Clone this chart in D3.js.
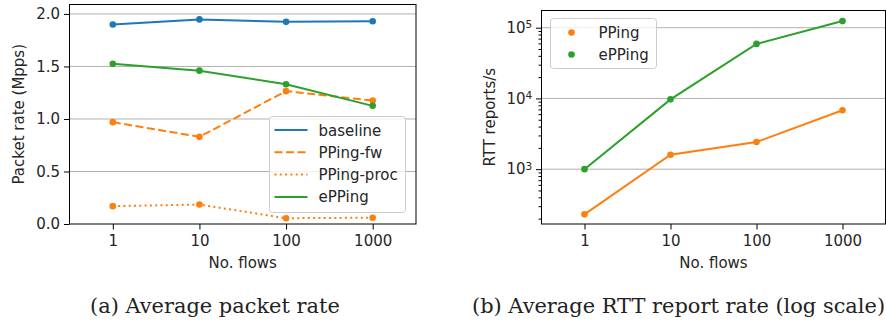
<!DOCTYPE html>
<html>
<head>
<meta charset="utf-8">
<script src="https://cdn.jsdelivr.net/npm/d3@7"></script>
<style>
  body { margin: 0; background: #fff; }
  svg { display: block; }
  .tick text { font-family: "DejaVu Sans", sans-serif; font-size: 15px; fill: #262626; }
  .lbl { font-family: "DejaVu Sans", sans-serif; font-size: 15px; fill: #262626; }
  .cap { font-family: "DejaVu Serif", serif; font-size: 17px; fill: #222; }
</style>
</head>
<body>
<div id="chart"></div>
<script>
// shared x categories (number of flows)
const flows = [1, 10, 100, 1000]

// panel (a): packet rate in Mpps
const baseline = [1.90, 1.948, 1.925, 1.93]
const ppingFw = [0.97, 0.83, 1.265, 1.175]
const ppingProc = [0.17, 0.185, 0.055, 0.06]
const epping = [1.525, 1.46, 1.33, 1.125]
const rateTicks = [0, 0.5, 1.0, 1.5, 2.0]

// panel (b): RTT reports per second
const ppingReports = [230, 1600, 2420, 6800]
const eppingReports = [1000, 9700, 59000, 124000]
const reportTicks = [1e3, 1e4, 1e5]

const colors = { blue: "#1f77b4", orange: "#ff7f0e", green: "#2ca02c" }

const W = 886, H = 323

const svg = d3.select("#chart").append("svg")
  .attr("width", W)
  .attr("height", H)

function frame(g, x, y, w, h) {
  g.append("rect")
    .attr("x", x).attr("y", y).attr("width", w).attr("height", h)
    .attr("fill", "none").attr("stroke", "#000").attr("stroke-width", 1)
}

function styleAxis(g) {
  g.select(".domain").remove()
  g.selectAll(".tick line").attr("stroke", "#000")
}

// ---------- panel (a) ----------
const a = { left: 69.5, right: 416, top: 4.5, bottom: 224 }
const xa = d3.scaleLog().domain([Math.pow(10, -0.5), Math.pow(10, 3.5)]).range([a.left, a.right])
const ya = d3.scaleLinear().domain([0, 2.09]).range([a.bottom, a.top])

const ga = svg.append("g")

// grid
ga.selectAll(".grid").data(rateTicks.filter(d => d > 0)).enter()
  .append("line")
  .attr("x1", a.left).attr("x2", a.right)
  .attr("y1", d => ya(d)).attr("y2", d => ya(d))
  .attr("stroke", "#b0b0b0").attr("stroke-width", 1)

ga.append("g")
  .attr("transform", `translate(0,${a.bottom})`)
  .call(d3.axisBottom(xa).tickValues(flows).tickFormat(d3.format("d")).tickSize(5.5).tickPadding(5.5))
  .call(styleAxis)

ga.append("g")
  .attr("transform", `translate(${a.left},0)`)
  .call(d3.axisLeft(ya).tickValues(rateTicks).tickFormat(d3.format(".1f")).tickSize(5.5).tickPadding(4))
  .call(styleAxis)

const seriesA = [
  { name: "baseline", values: baseline, color: colors.blue, dash: null },
  { name: "PPing-fw", values: ppingFw, color: colors.orange, dash: "8,3.5" },
  { name: "PPing-proc", values: ppingProc, color: colors.orange, dash: "2,3.3" },
  { name: "ePPing", values: epping, color: colors.green, dash: null }
]

const lineA = d3.line()
  .x((d, i) => xa(flows[i]))
  .y(d => ya(d))

seriesA.forEach(s => {
  ga.append("path")
    .attr("d", lineA(s.values))
    .attr("fill", "none")
    .attr("stroke", s.color)
    .attr("stroke-width", 2)
    .attr("stroke-dasharray", s.dash)
  ga.selectAll(null).data(s.values).enter()
    .append("circle")
    .attr("cx", (d, i) => xa(flows[i]))
    .attr("cy", d => ya(d))
    .attr("r", 3.3)
    .attr("fill", s.color)
})

frame(ga, a.left, a.top, a.right - a.left, a.bottom - a.top)

ga.append("text").attr("class", "lbl")
  .attr("x", (a.left + a.right) / 2).attr("y", 268)
  .attr("text-anchor", "middle").text("No. flows")

ga.append("text").attr("class", "lbl")
  .attr("transform", `translate(24,${(a.top + a.bottom) / 2}) rotate(-90)`)
  .attr("text-anchor", "middle").text("Packet rate (Mpps)")

// legend (a)
const la = ga.append("g").attr("transform", "translate(269.5,116.5)")
la.append("rect")
  .attr("width", 136).attr("height", 96).attr("rx", 3)
  .attr("fill", "#fff").attr("fill-opacity", 0.8)
  .attr("stroke", "#cccccc")
seriesA.forEach((s, i) => {
  const yy = 13.5 + i * 22.3
  la.append("line")
    .attr("x1", 5).attr("x2", 38).attr("y1", yy).attr("y2", yy)
    .attr("stroke", s.color).attr("stroke-width", 2)
    .attr("stroke-dasharray", s.dash)
  la.append("text").attr("class", "lbl")
    .attr("x", 49).attr("y", yy + 5.5).text(s.name)
})

// ---------- panel (b) ----------
const b = { left: 541.5, right: 885.5, top: 10.5, bottom: 224 }
const xb = d3.scaleLog().domain([Math.pow(10, -0.5), Math.pow(10, 3.5)]).range([b.left, b.left + 344])
const yb = d3.scaleLog().domain([Math.pow(10, 2.225), Math.pow(10, 5.243)]).range([b.bottom, b.top])

const gb = svg.append("g")

gb.selectAll(".grid").data(reportTicks).enter()
  .append("line")
  .attr("x1", b.left).attr("x2", b.right)
  .attr("y1", d => yb(d)).attr("y2", d => yb(d))
  .attr("stroke", "#b0b0b0").attr("stroke-width", 1)

gb.append("g")
  .attr("transform", `translate(0,${b.bottom})`)
  .call(d3.axisBottom(xb).tickValues(flows).tickFormat(d3.format("d")).tickSize(5.5).tickPadding(5.5))
  .call(styleAxis)

// minor log ticks
const minor = []
for (let e = 2; e <= 5; e++) {
  for (let m = 2; m <= 9; m++) {
    const v = m * Math.pow(10, e)
    if (v > yb.domain()[0] && v < yb.domain()[1]) minor.push(v)
  }
}
gb.append("g")
  .attr("transform", `translate(${b.left},0)`)
  .call(d3.axisLeft(yb).tickValues(minor).tickFormat("").tickSize(3))
  .call(styleAxis)

const yAxisB = gb.append("g")
  .attr("transform", `translate(${b.left},0)`)
  .call(d3.axisLeft(yb).tickValues(reportTicks).tickFormat("").tickSize(5.5))
  .call(styleAxis)

yAxisB.selectAll(".tick").each(function (d) {
  const t = d3.select(this).append("text")
    .attr("x", -16).attr("dy", "0.32em")
    .attr("text-anchor", "end")
    .attr("fill", "#262626")
  t.append("tspan").text("10")
  t.append("tspan")
    .attr("x", -16).attr("text-anchor", "start")
    .attr("dy", "-0.45em").attr("font-size", "10.5px")
    .text(Math.round(Math.log10(d)))
})

const seriesB = [
  { name: "PPing", values: ppingReports, color: colors.orange },
  { name: "ePPing", values: eppingReports, color: colors.green }
]

const lineB = d3.line()
  .x((d, i) => xb(flows[i]))
  .y(d => yb(d))

seriesB.forEach(s => {
  gb.append("path")
    .attr("d", lineB(s.values))
    .attr("fill", "none")
    .attr("stroke", s.color)
    .attr("stroke-width", 2)
  gb.selectAll(null).data(s.values).enter()
    .append("circle")
    .attr("cx", (d, i) => xb(flows[i]))
    .attr("cy", d => yb(d))
    .attr("r", 3.3)
    .attr("fill", s.color)
})

frame(gb, b.left, b.top, b.right - b.left, b.bottom - b.top)

gb.append("text").attr("class", "lbl")
  .attr("x", b.left + 172).attr("y", 268)
  .attr("text-anchor", "middle").text("No. flows")

gb.append("text").attr("class", "lbl")
  .attr("transform", `translate(495,${(b.top + b.bottom) / 2}) rotate(-90)`)
  .attr("text-anchor", "middle").text("RTT reports/s")

// legend (b)
const lb = gb.append("g").attr("transform", "translate(550.5,18.5)")
lb.append("rect")
  .attr("width", 106).attr("height", 50).attr("rx", 3)
  .attr("fill", "#fff").attr("fill-opacity", 0.8)
  .attr("stroke", "#cccccc")
seriesB.forEach((s, i) => {
  const yy = 14 + i * 22
  lb.append("circle")
    .attr("cx", 21).attr("cy", yy).attr("r", 3.3)
    .attr("fill", s.color)
  lb.append("text").attr("class", "lbl")
    .attr("x", 48).attr("y", yy + 5.5).text(s.name)
})

// ---------- captions ----------
const capA = svg.append("text").attr("class", "cap")
  .attr("x", 90).attr("y", 313).text("(a) Average packet rate")
const capB = svg.append("text").attr("class", "cap")
  .attr("x", 472).attr("y", 313).text("(b) Average RTT report rate (log scale)")

// size the serif caption so that (a) spans the same width as in the paper
const natural = capA.node().getComputedTextLength()
const capSize = 17 * 250 / natural
capA.style("font-size", capSize + "px")
capB.style("font-size", capSize + "px")
</script>
</body>
</html>
